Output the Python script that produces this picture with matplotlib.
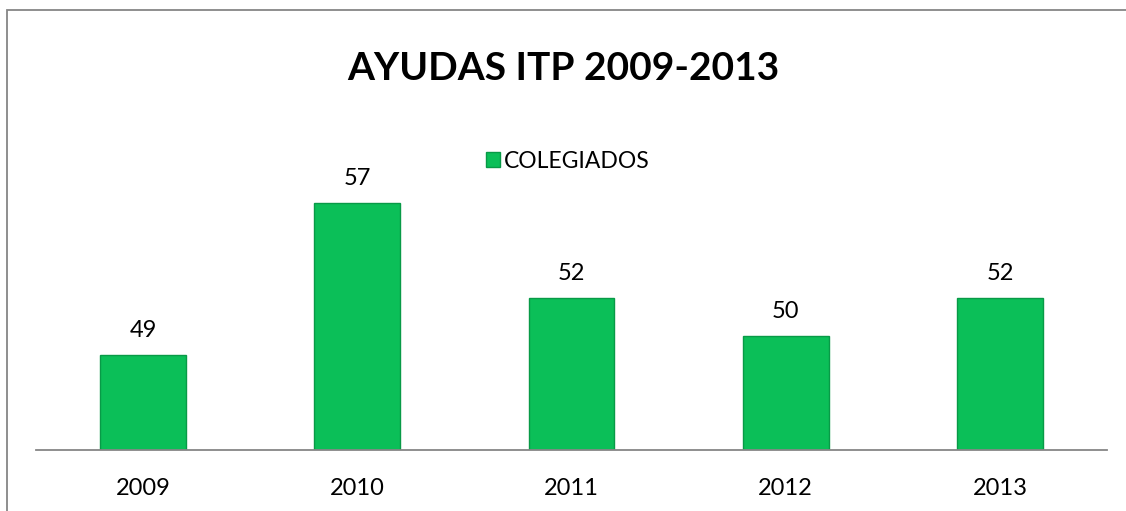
import matplotlib.pyplot as plt
from matplotlib.patches import Rectangle, Patch

years = ["2009", "2010", "2011", "2012", "2013"]
colegiados = [49, 57, 52, 50, 52]

plt.rcParams['font.family'] = ['Lato', 'DejaVu Sans']

fig = plt.figure(figsize=(11.26, 5.11), dpi=100)

# outer chart frame (runs off the right/bottom edge like the original)
fig.patches.append(Rectangle((7 / 1126, -0.05), 1.2, 1 - 10 / 511 + 0.05,
                             transform=fig.transFigure, fill=False,
                             edgecolor='#868686', linewidth=1.3))

ax = fig.add_axes([36 / 1126, 1 - 450 / 511, (1107 - 36) / 1126, 304 / 511])
x = range(len(years))
bars = ax.bar(x, colegiados, width=0.4, bottom=0, color='#0BBF58',
              edgecolor='#089A47', linewidth=1.0, zorder=2)
ax.set_ylim(44, 60)
ax.set_xlim(-0.5, len(years) - 0.5)

for xi, v in zip(x, colegiados):
    ax.text(xi, v + 0.75, str(v), ha='center', va='bottom', fontsize=17, color='black')

ax.set_xticks(list(x))
ax.set_xticklabels(years, fontsize=17)
ax.tick_params(axis='x', length=0, pad=20)
ax.set_yticks([])
for side in ['left', 'right', 'top']:
    ax.spines[side].set_visible(False)
ax.spines['bottom'].set_color('#868686')
ax.spines['bottom'].set_linewidth(1.3)

fig.text(0.5, 1 - 68 / 511, "AYUDAS ITP 2009-2013", ha='center', va='center',
         fontsize=28, fontweight='bold')

fig.legend(handles=[Patch(facecolor='#0BBF58', edgecolor='#089A47', label='COLEGIADOS')],
           loc='center', bbox_to_anchor=(568 / 1126, 1 - 161 / 511), frameon=False,
           fontsize=16.5, handlelength=0.6, handleheight=0.6, handletextpad=0.2)

fig.savefig("out.png", dpi=100)
